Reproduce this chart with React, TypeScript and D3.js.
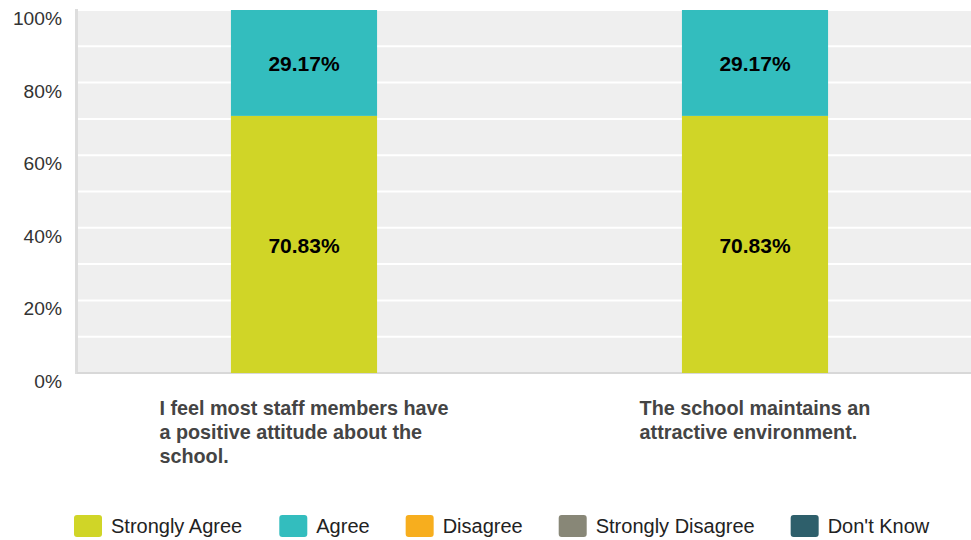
import React from "react";
import * as d3 from "d3";

const categories = [
  "I feel most staff members have a positive attitude about the school.",
  "The school maintains an attractive environment.",
];
const categoryLines = [
  ["I feel most staff members have", "a positive attitude about the", "school."],
  ["The school maintains an", "attractive environment."],
];
const seriesNames = ["Strongly Agree", "Agree", "Disagree", "Strongly Disagree", "Don't Know"];
const seriesColors = ["#d0d527", "#33bdbe", "#f7ae1e", "#888777", "#2e5f6b"];
const stronglyAgree = [70.83, 70.83];
const agree = [29.17, 29.17];
const disagree = [0, 0];
const stronglyDisagree = [0, 0];
const dontKnow = [0, 0];
const yTicks = [0, 20, 40, 60, 80, 100];
const yGrid = [10, 20, 30, 40, 50, 60, 70, 80, 90, 100];

const FONT = "'Liberation Sans', Arial, Helvetica, sans-serif";

function measure(text: string, font: string): number {
  const c = document.createElement("canvas").getContext("2d");
  if (!c) return text.length * 10;
  c.font = font;
  return c.measureText(text).width;
}

export default function App() {
  const W = 971;
  const H = 540;
  const left = 78;
  const top = 9;
  const bottom = 373;
  const series = [stronglyAgree, agree, disagree, stronglyDisagree, dontKnow];

  const y = d3.scaleLinear().domain([0, 100]).range([bottom, 10]);
  const x = d3
    .scaleBand<string>()
    .domain(categories)
    .range([78.5, 980.5])
    .paddingInner(0.676)
    .paddingOuter(0.338);

  const table = categories.map((c, i) => {
    const row: any = { cat: c };
    seriesNames.forEach((s, j) => (row[s] = series[j][i]));
    return row;
  });
  const stacked = d3.stack<any>().keys(seriesNames)(table);

  const catFont = `bold 19.8px ${FONT}`;
  const legSize = 20;
  const legFont = `${legSize}px ${FONT}`;

  let lx = 74;
  const legendItems = seriesNames.map((s, i) => {
    const item = { name: s, color: seriesColors[i], x: lx };
    lx += 28 + 9 + measure(s, legFont) + 36;
    return item;
  });

  return (
    <svg width={W} height={H} style={{ position: "absolute", left: 0, top: 0, fontFamily: FONT }}>
      <rect x={left} y={top} width={W - left} height={bottom - top} fill="#efefef" />
      {yGrid.map((g) => (
        <line key={g} x1={left} x2={W} y1={y(g)} y2={y(g)} stroke="#ffffff" strokeWidth={2} />
      ))}
      <rect x={75} y={top} width={3} height={bottom - top + 1} fill="#dddddd" />
      <rect x={77} y={372} width={W - 77} height={2} fill="#d8d8d8" />
      {yTicks.map((t) => (
        <text
          key={t}
          x={62}
          y={y(t) + 8.5}
          textAnchor="end"
          dominantBaseline="central"
          fontSize={19.2}
          fill="#333333"
        >
          {t}%
        </text>
      ))}
      {stacked.map((layer, li) =>
        layer.map((d, i) => {
          const h = y(d[0]) - y(d[1]);
          if (h <= 0) return null;
          const bx = x(categories[i])!;
          return (
            <g key={`${li}-${i}`}>
              <rect x={bx} y={y(d[1])} width={x.bandwidth()} height={h} fill={seriesColors[li]} />
              <text
                x={bx + x.bandwidth() / 2}
                y={(y(d[0]) + y(d[1])) / 2 + 1}
                textAnchor="middle"
                dominantBaseline="central"
                fontWeight="bold"
                fontSize={21}
                fill="#000000"
              >
                {(d[1] - d[0]).toFixed(2)}%
              </text>
            </g>
          );
        })
      )}
      {categories.map((c, i) => {
        const lines = categoryLines[i];
        const maxW = Math.max(...lines.map((l) => measure(l, catFont)));
        const cx = x(c)! + x.bandwidth() / 2;
        const x0 = cx - maxW / 2;
        return (
          <g key={c}>
            {lines.map((l, k) => (
              <text
                key={k}
                x={x0}
                y={415 + k * 24}
                fontWeight="bold"
                fontSize={19.8}
                fill="#444444"
              >
                {l}
              </text>
            ))}
          </g>
        );
      })}
      {legendItems.map((it) => (
        <g key={it.name}>
          <rect x={it.x} y={515} width={28} height={22} rx={3} fill={it.color} />
          <text x={it.x + 37} y={526} dominantBaseline="central" fontSize={legSize} fill="#222222">
            {it.name}
          </text>
        </g>
      ))}
    </svg>
  );
}
